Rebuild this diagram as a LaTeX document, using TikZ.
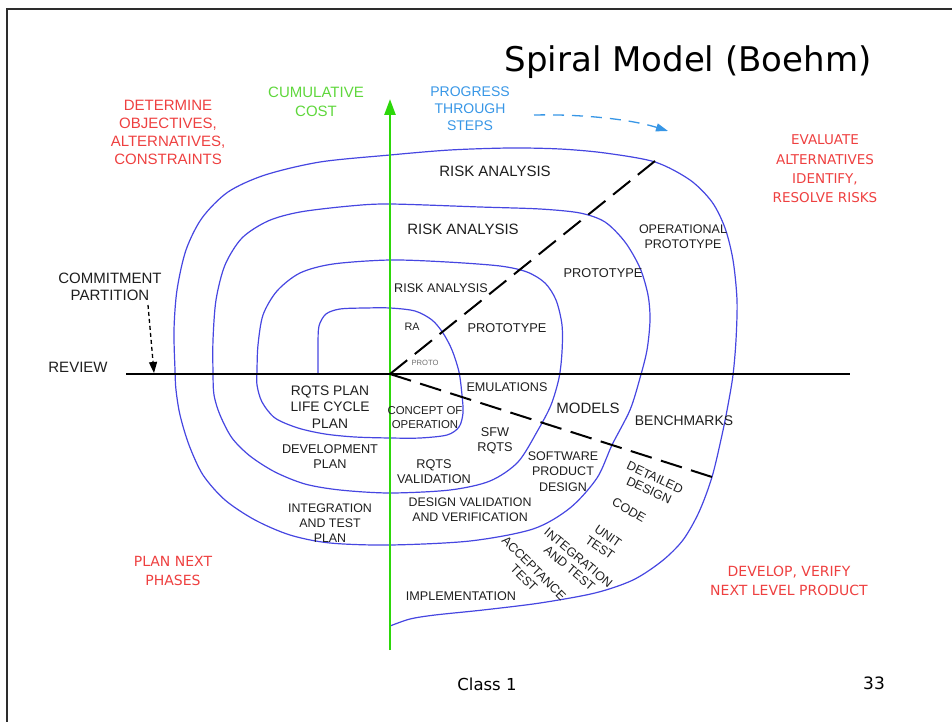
\documentclass[tikz,border=0pt]{standalone}
\usepackage{fontspec}
\setmainfont{Liberation Sans}
\newfontfamily\handfont{DejaVu Sans}
\usetikzlibrary{arrows.meta}

\definecolor{spiralblue}{RGB}{70,70,225}
\definecolor{axisgreen}{RGB}{45,215,10}
\definecolor{labelgreen}{RGB}{95,215,60}
\definecolor{labelred}{RGB}{238,64,64}
\definecolor{progblue}{RGB}{55,150,230}
\definecolor{inkgrey}{RGB}{30,30,30}
\definecolor{protogrey}{RGB}{110,110,110}
\definecolor{framegrey}{RGB}{45,45,45}

\newcommand\lblsize[2]{\fontsize{#1}{#2}\selectfont}

\tikzset{
  lbl/.style={text=inkgrey, inner sep=0pt, align=center},
  redhand/.style={text=labelred, inner sep=0pt, align=center},
  spiral/.style={draw=spiralblue, line width=1.2pt, line join=round, line cap=round},
  reviewaxis/.style={draw=black, line width=2.2pt},
  costaxis/.style={draw=axisgreen, line width=2.6pt, -{Triangle[length=16pt,width=11pt]}},
  phaseline/.style={draw=black, line width=2pt},
  commitarrow/.style={draw=black, line width=1.3pt, dash pattern=on 4pt off 3pt, -{Triangle[length=11pt,width=8pt]}},
  progarrow/.style={draw=progblue, line width=1.3pt, dash pattern=on 11pt off 8pt, -{Triangle[length=12pt,width=8pt]}},
}

\begin{document}
\begin{tikzpicture}[x=1pt,y=-1pt]
\useasboundingbox (0,0) rectangle (952,722);

% slide frame (top and left edges)
\coordinate (frameBL) at (7,722);
\coordinate (frameTL) at (7,9);
\coordinate (frameTR) at (952,9);
\draw[framegrey, line width=1.6pt] (frameBL) -- (frameTL) -- (frameTR);

% the spiral
\draw[spiral] plot[smooth, tension=0.5] coordinates {
  (318,374) (318,345) (319,326) (326,314) (340,309) (365,308) (390,308)
  (415,311) (432,320) (443,333) (452,350) (459,372) (462,395) (463,413)
  (459,427) (447,435) (420,438) (390,438) (355,437) (325,434) (298,428)
  (275,418) (262,402) (257,385)
  (257,370) (258,345) (263,315) (277,291) (300,273) (333,264) (390,260)
  (447,262) (500,266) (527,272) (545,283) (556,300) (562,325) (562,352)
  (559,378) (551,405) (538,430) (518,462) (490,481) (450,490) (390,493)
  (340,490) (305,484) (275,472) (250,456) (232,438) (220,415) (214,395)
  (213,373) (213,340) (216,300) (225,265) (242,238) (268,221) (300,212)
  (350,206) (390,204) (480,207) (540,209) (580,213) (605,222) (625,242)
  (640,268) (648,295) (650,320) (647,350) (640,378) (630,410) (612,445)
  (597,478) (570,508) (533,529) (470,541) (390,545) (330,543) (290,535)
  (255,520) (225,500) (203,475) (189,445) (180,415) (176,390)
  (175,370) (174,330) (177,290) (186,250) (202,218) (228,192) (265,175)
  (320,162) (390,155) (450,150) (510,148) (560,149) (605,153) (655,162)
  (690,180) (712,202) (725,228) (733,260) (737,300) (736,340) (733,375)
  (728,405) (722,435) (712,477) (699,512) (683,540) (662,561) (633,580)
  (595,593) (540,603) (483,610) (435,615) (410,619) (390,626)};

% axes
\coordinate (O) at (390,374);
\coordinate (costFoot) at (390,650);
\coordinate (costTop) at (390,99);
\coordinate (reviewLeft) at (126,374);
\coordinate (reviewRight) at (850,374);
\draw[costaxis] (costFoot) -- (costTop);
\draw[reviewaxis] (reviewLeft) -- (reviewRight);

% phase boundaries (patterns chosen so both lines end on a dash)
\coordinate (riskEnd) at (655,161);
\coordinate (devEnd) at (712,477);
\draw[phaseline, dash pattern=on 22pt off 9.8pt] (O) -- (riskEnd);
\draw[phaseline, dash pattern=on 22pt off 9.6pt] (O) -- (devEnd);

% title
\node[inner sep=0pt, anchor=base, font=\handfont\lblsize{34}{40}] (title) at (688,72) {Spiral Model (Boehm)};

% quadrant captions
\node[lbl, text=labelred, font=\lblsize{15}{18}] (objectives) at (168,132.5) {DETERMINE\\OBJECTIVES,\\ALTERNATIVES,\\CONSTRAINTS};
\node[lbl, text=labelgreen, font=\lblsize{15}{19}] (cost) at (316,102) {CUMULATIVE\\COST};
\node[lbl, text=progblue, font=\lblsize{14}{17}] (progress) at (470,109) {PROGRESS\\THROUGH\\STEPS};
\node[redhand, font=\handfont\lblsize{13.5}{19.3}] (evaluate) at (825,169) {EVALUATE\\ALTERNATIVES\\IDENTIFY,\\RESOLVE RISKS};
\node[redhand, font=\handfont\lblsize{14}{19}] (plannext) at (173,570.5) {PLAN NEXT\\PHASES};
\node[redhand, font=\handfont\lblsize{14}{19}] (develop) at (789,581) {DEVELOP, VERIFY\\NEXT LEVEL PRODUCT};

% progress arrow
\coordinate (progFrom) at (534,115);
\coordinate (progTo) at (668,131);
\draw[progarrow] (progFrom) .. controls (580,114) and (630,119) .. (progTo);

% review and commitment
\node[lbl, font=\lblsize{15}{18}] (review) at (78,367) {REVIEW};
\node[lbl, font=\lblsize{15}{17.5}] (commit) at (110,287) {COMMITMENT\\PARTITION};
\coordinate (commitFrom) at (148,305);
\coordinate (commitTo) at (154,373);
\draw[commitarrow] (commitFrom) -- (commitTo);

% upper half labels
\node[lbl, font=\lblsize{15}{18}] (risk4) at (495,171) {RISK ANALYSIS};
\node[lbl, font=\lblsize{15}{18}] (risk3) at (463,229) {RISK ANALYSIS};
\node[lbl, font=\lblsize{12.6}{15}] (risk2) at (441,288) {RISK ANALYSIS};
\node[lbl, font=\lblsize{10.8}{13}] (risk1) at (412,327) {RA};
\node[lbl, text=protogrey, font=\lblsize{7.6}{9}] (proto1) at (425,363) {PROTO};
\node[lbl, font=\lblsize{12.8}{15}] (proto2) at (507,328) {PROTOTYPE};
\node[lbl, font=\lblsize{12.8}{15}] (proto3) at (603,273) {PROTOTYPE};
\node[lbl, font=\lblsize{12.5}{15}] (proto4) at (683,237) {OPERATIONAL\\PROTOTYPE};

% lower half labels
\node[lbl, font=\lblsize{12.6}{15}] (emul) at (507,387) {EMULATIONS};
\node[lbl, font=\lblsize{15}{18}] (models) at (588,408) {MODELS};
\node[lbl, font=\lblsize{13.9}{16}] (bench) at (684,421) {BENCHMARKS};
\node[lbl, font=\lblsize{13.8}{16.5}] (rqtsplan) at (330,407) {RQTS PLAN\\LIFE CYCLE\\PLAN};
\node[lbl, font=\lblsize{11.4}{14}] (concept) at (425,418) {CONCEPT OF\\OPERATION};
\node[lbl, font=\lblsize{12.7}{15}] (sfw) at (495,440.5) {SFW\\RQTS};
\node[lbl, font=\lblsize{12.7}{15}] (devplan) at (330,456.5) {DEVELOPMENT\\PLAN};
\node[lbl, font=\lblsize{12.7}{15}] (rqtsval) at (434,471.5) {RQTS\\VALIDATION};
\node[lbl, font=\lblsize{12.5}{15.5}] (spd) at (563,471.5) {SOFTWARE\\PRODUCT\\DESIGN};
\node[lbl, font=\lblsize{12.4}{15}] (itplan) at (330,523) {INTEGRATION\\AND TEST\\PLAN};
\node[lbl, font=\lblsize{12.4}{15}] (dvv) at (470,509.5) {DESIGN VALIDATION\\AND VERIFICATION};
\node[lbl, font=\lblsize{12.5}{14}, rotate=-25] (detail) at (652,484) {DETAILED\\DESIGN};
\node[lbl, font=\lblsize{12.5}{14}, rotate=-30] (code) at (629,510) {CODE};
\node[lbl, font=\lblsize{12.5}{14}, rotate=-35] (unit) at (604,542) {UNIT\\TEST};
\node[lbl, font=\lblsize{12.5}{14}, rotate=-40] (inttest) at (574,563) {INTEGRATION\\AND TEST};
\node[lbl, font=\lblsize{12.5}{14}, rotate=-45] (accept) at (529,573) {ACCEPTANCE\\TEST};
\node[lbl, font=\lblsize{12.6}{15}] (impl) at (461,596) {IMPLEMENTATION};

% footer
\node[inner sep=0pt, anchor=base, font=\handfont\lblsize{16.5}{20}] (classno) at (487,690) {Class 1};
\node[inner sep=0pt, anchor=base, font=\handfont\lblsize{17}{20}] (pageno) at (874,689) {33};
\end{tikzpicture}
\end{document}
